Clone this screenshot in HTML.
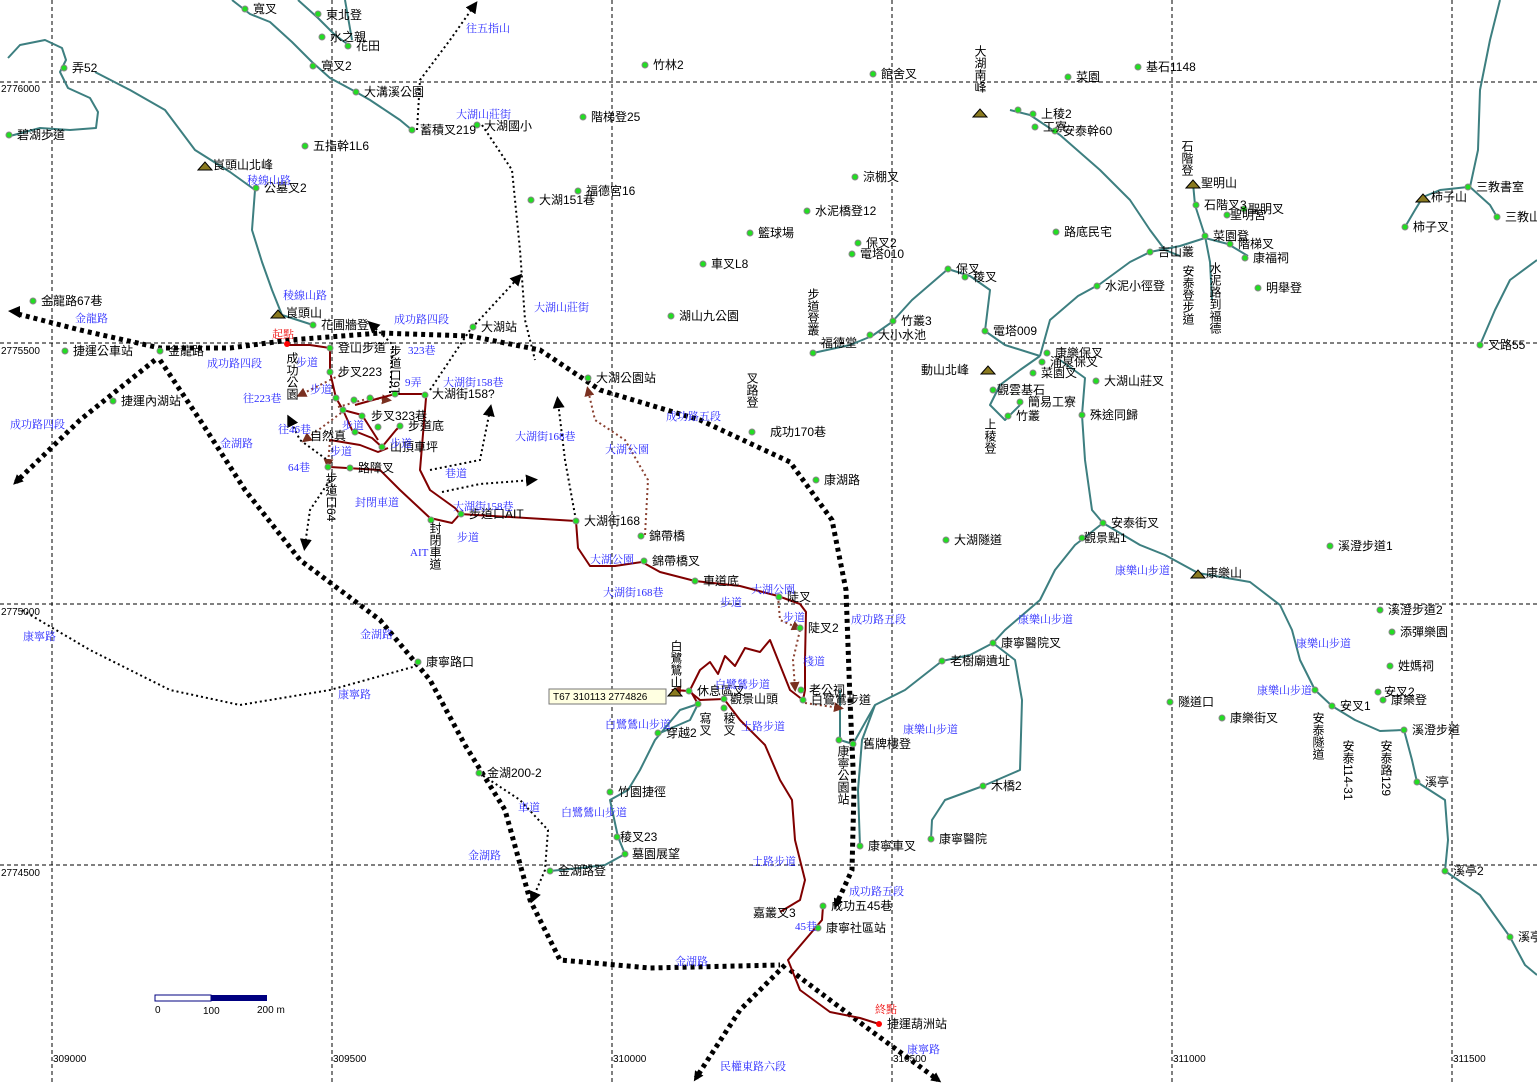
<!DOCTYPE html>
<html><head><meta charset="utf-8"><style>
html,body{margin:0;padding:0;background:#fff;}
svg{display:block;}
.t{font-family:"Liberation Sans","Noto Sans CJK TC",sans-serif;font-size:12px;fill:#000;}
.b{font-family:"Liberation Serif","Noto Serif CJK SC",serif;font-size:11px;fill:#2b2bff;}
.g{font-family:"Liberation Sans",sans-serif;font-size:10px;fill:#000;}
</style></head><body>
<svg width="1537" height="1084" viewBox="0 0 1537 1084" xmlns="http://www.w3.org/2000/svg">
<defs>
<marker id="ab" markerWidth="6" markerHeight="6" refX="3" refY="3" orient="auto" markerUnits="strokeWidth"><path d="M0,0 L6,3 L0,6 z" fill="#000"/></marker>
<marker id="at" markerWidth="10" markerHeight="10" refX="6" refY="5" orient="auto" markerUnits="userSpaceOnUse"><path d="M0,0 L10,5 L0,10 z" fill="#000"/></marker>
<marker id="as" markerWidth="10" markerHeight="10" refX="4" refY="5" orient="auto-start-reverse" markerUnits="userSpaceOnUse"><path d="M0,0 L10,5 L0,10 z" fill="#000"/></marker>
<marker id="ar" markerWidth="10" markerHeight="10" refX="6" refY="5" orient="auto" markerUnits="userSpaceOnUse"><path d="M0,0 L10,5 L0,10 z" fill="#7a3020"/></marker>
</defs>
<!-- grid -->
<g stroke="#000" stroke-width="1" stroke-dasharray="4,3">
<line x1="0" y1="82" x2="1537" y2="82"/><line x1="0" y1="343" x2="1537" y2="343"/>
<line x1="0" y1="604" x2="1537" y2="604"/><line x1="0" y1="865" x2="1537" y2="865"/>
<line x1="52" y1="0" x2="52" y2="1084"/><line x1="332" y1="0" x2="332" y2="1084"/>
<line x1="612" y1="0" x2="612" y2="1084"/><line x1="892" y1="0" x2="892" y2="1084"/>
<line x1="1172" y1="0" x2="1172" y2="1084"/><line x1="1452" y1="0" x2="1452" y2="1084"/>
</g>
<g class="g">
<text x="1" y="92">2776000</text><text x="1" y="354">2775500</text><text x="1" y="615">2775000</text><text x="1" y="876">2774500</text>
<text x="53" y="1062">309000</text><text x="333" y="1062">309500</text><text x="613" y="1062">310000</text><text x="893" y="1062">310500</text><text x="1173" y="1062">311000</text><text x="1453" y="1062">311500</text>
</g>
<!-- streams -->
<g fill="none" stroke="#3d7f80" stroke-width="2" stroke-linejoin="round">
<path d="M8,58 L20,45 L45,40 L62,48 L66,60 L60,72 L68,88 L90,98 L98,112 L96,128 L70,130 L40,128 L10,136"/>
<path d="M232,0 L250,14 L270,22 L292,42 L312,62 L330,78 L356,92"/>
<path d="M298,0 L318,18 L335,35 L350,46 M345,0 L352,40"/>
<path d="M356,92 L370,100 L400,120 L412,130"/>
<path d="M95,72 L130,90 L165,110 L195,150 L230,172 L255,190 L252,230 L262,262 L272,290 L282,315 L313,325"/>
<path d="M813,353 L850,345 L872,336 L892,322 L912,300 L948,269 L970,276 L990,290 L985,331 L1005,345 L1040,356"/>
<path d="M1040,356 L1050,320 L1078,296 L1100,284 L1130,262 L1150,252 L1180,246 L1205,238 L1228,244 L1248,256"/>
<path d="M1010,110 L1030,115 L1060,135 L1100,170 L1130,200 L1150,230 L1165,250 L1180,256"/>
<path d="M1193,183 L1195,205 L1205,236 L1210,262 L1212,300"/>
<path d="M1040,356 L1020,370 L1000,385 L990,405 L1005,420 L1020,405"/>
<path d="M1060,360 L1085,378 L1082,415 L1085,460 L1092,510 L1103,523 L1140,545 L1165,555 L1198,573 L1250,582 L1280,605 L1292,630 L1300,660 L1315,690 L1332,706 L1355,720 L1380,731 L1404,730 L1412,760 L1417,782 L1445,800 L1448,840 L1445,871 L1480,895 L1510,937 L1525,965 L1537,975"/>
<path d="M1103,523 L1075,545 L1055,570 L1040,600 L1005,630 L993,643 L970,655 L942,661 L905,690 L875,705 L862,740 L858,790 L860,846"/>
<path d="M993,643 L1015,660 L1022,700 L1020,770 L983,786 L945,800 L932,820 L931,839"/>
<path d="M840,690 L840,740 L853,744 L875,705"/>
<path d="M660,733 L690,720 L698,704 L680,710 L655,740 L640,770 L628,790 L610,800 L618,837 L625,854 L605,865 L580,868 L550,871"/>
<path d="M1537,260 L1510,280 L1495,310 L1480,345"/>
<path d="M1500,0 L1490,40 L1480,90 L1478,150 L1470,187 L1490,205 L1497,217"/>
<path d="M1405,227 L1415,210 L1423,197 L1440,190 L1468,187"/>
</g>
<!-- thick dotted route -->
<g fill="none" stroke="#000" stroke-width="5" stroke-dasharray="4,4">
<path d="M18,314 L80,330 L160,348 L230,348 L290,340 L380,333 L470,336 L540,350 L600,390 L700,420 L790,462 L832,520 L846,590 L850,700 L854,790 L852,870 L836,905" marker-end="url(#at)"/>
<path d="M155,360 L80,420 L16,482" marker-end="url(#at)"/>
<path d="M160,360 L200,420 L245,490 L300,560 L380,620 L430,680 L465,745 L505,810 L530,900 L560,960 L650,968 L780,965"/>
<path d="M785,965 L740,1010 L696,1078" marker-end="url(#at)"/>
<path d="M790,970 L870,1030 L938,1080" marker-end="url(#at)"/>
</g>
<path d="M20,306 L8,311 L20,318 z" fill="#000"/>
<!-- thin dotted -->
<g fill="none" stroke="#000" stroke-width="2" stroke-dasharray="2,3">
<path d="M417,130 L420,80 L450,40 L474,6" marker-end="url(#ab)"/>
<path d="M482,125 L512,170 L520,250 L525,320 L535,360"/>
<path d="M430,390 L470,330 L518,278" marker-end="url(#ab)"/>
<path d="M22,610 L90,650 L170,690 L240,705 L330,690 L420,665"/>
<path d="M430,470 L480,460 L490,410" marker-end="url(#ab)"/>
<path d="M442,492 L480,484 L532,480" marker-end="url(#ab)"/>
<path d="M575,515 L565,460 L558,402" marker-end="url(#ab)"/>
<path d="M330,480 L310,510 L305,545" marker-end="url(#ab)"/>
<path d="M330,462 L300,440 L290,420" marker-end="url(#ab)"/>
<path d="M390,393 L393,345 L372,325" marker-end="url(#ab)"/>
<path d="M479,773 L520,800 L548,830 L545,870 L533,898" marker-end="url(#ab)"/>
</g>
<!-- brown dotted -->
<g fill="none" stroke="#8a4030" stroke-width="2" stroke-dasharray="2,3">
<path d="M340,375 L300,395" marker-end="url(#ar)"/>
<path d="M345,410 L305,440" marker-end="url(#ar)"/>
<path d="M338,407 L370,398 L388,400" marker-end="url(#ar)"/>
<path d="M330,440 L328,465" marker-end="url(#ar)"/>
<path d="M645,535 L648,480 L625,440 L595,420 L588,390" marker-end="url(#ar)"/>
<path d="M778,596 L780,620 L798,628" marker-end="url(#ar)"/>
<path d="M800,630 L793,660 L795,688" marker-end="url(#ar)"/>
<path d="M805,703 L840,708" marker-end="url(#ar)"/>
<path d="M689,691 L675,690" marker-end="url(#ar)"/>
</g>
<!-- red trail -->
<g fill="none" stroke="#800000" stroke-width="2" stroke-linejoin="round">
<path d="M287,345 L310,345 L330,348 L330,372 L336,398 L343,410 L352,430 L372,438 L382,447 L396,430 L400,426"/>
<path d="M343,410 L362,415 L378,440"/>
<path d="M330,440 L360,445 L378,452 L388,448"/>
<path d="M355,405 L380,398 L395,394 L424,394 L426,398 L420,470 L430,490 L455,508 L460,514 L452,523 L430,518 L400,490 L380,470 L330,467"/>
<path d="M460,514 L576,521 L578,548 L590,566 L615,566 L642,562 L660,572 L695,581 L740,586 L778,596 L800,604 L806,612 L805,660 L805,690 L803,700"/>
<path d="M672,690 L689,691 L700,700 L724,699 L740,720 L765,745 L780,780 L792,800 L795,840 L805,880 L800,900 L780,912"/>
<path d="M698,704 L690,690 L700,670 L710,662 L718,674 L725,656 L735,666 L745,648 L760,652 L770,640 L778,660 L790,690 L803,700"/>
<path d="M823,906 L822,920 L805,940 L788,960 L800,990 L830,1012 L860,1018 L879,1024"/>
</g>
<!-- scale -->
<rect x="155" y="995" width="56" height="6" fill="#fff" stroke="#000080"/><rect x="211" y="995" width="56" height="6" fill="#000080"/>
<text class="g" x="155" y="1013">0</text><text class="g" x="203" y="1014">100</text><text class="g" x="257" y="1013">200 m</text>
<!-- tooltip -->
<rect x="549" y="689" width="117" height="15" fill="#ffffe1" stroke="#777"/>
<text class="g" x="553" y="700">T67  310113  2774826</text>
<!-- peaks -->
<g fill="#8a7a20" stroke="#000" stroke-width="1">
<path d="M198,170 l7,-8 l7,8z"/><path d="M271,318 l7,-8 l7,8z"/><path d="M973,117 l7,-8 l7,8z"/><path d="M1186,188 l7,-8 l7,8z"/><path d="M1416,202 l7,-8 l7,8z"/><path d="M1191,578 l7,-8 l7,8z"/><path d="M981,374 l7,-8 l7,8z"/><path d="M668,696 l7,-8 l7,8z"/>
</g>
<!-- points -->
<g fill="#22dd22" stroke="#888" stroke-width="1">
<circle cx="245" cy="9" r="3"/><circle cx="318" cy="14" r="3"/><circle cx="322" cy="37" r="3"/><circle cx="348" cy="46" r="3"/><circle cx="313" cy="66" r="3"/><circle cx="64" cy="68" r="3"/><circle cx="356" cy="92" r="3"/><circle cx="9" cy="135" r="3"/><circle cx="412" cy="130" r="3"/><circle cx="477" cy="125" r="3"/><circle cx="305" cy="146" r="3"/><circle cx="256" cy="188" r="3"/><circle cx="645" cy="65" r="3"/><circle cx="873" cy="74" r="3"/><circle cx="1068" cy="77" r="3"/><circle cx="1138" cy="67" r="3"/><circle cx="583" cy="117" r="3"/><circle cx="578" cy="191" r="3"/><circle cx="531" cy="200" r="3"/><circle cx="855" cy="177" r="3"/><circle cx="807" cy="211" r="3"/><circle cx="750" cy="233" r="3"/><circle cx="858" cy="243" r="3"/><circle cx="852" cy="254" r="3"/><circle cx="703" cy="264" r="3"/><circle cx="671" cy="316" r="3"/><circle cx="473" cy="327" r="3"/><circle cx="33" cy="301" r="3"/><circle cx="313" cy="325" r="3"/><circle cx="65" cy="351" r="3"/><circle cx="160" cy="351" r="3"/><circle cx="113" cy="401" r="3"/><circle cx="588" cy="378" r="3"/><circle cx="752" cy="432" r="3"/><circle cx="816" cy="480" r="3"/><circle cx="946" cy="540" r="3"/><circle cx="576" cy="521" r="3"/><circle cx="641" cy="536" r="3"/><circle cx="644" cy="561" r="3"/><circle cx="695" cy="581" r="3"/><circle cx="779" cy="597" r="3"/><circle cx="800" cy="628" r="3"/><circle cx="801" cy="690" r="3"/><circle cx="803" cy="700" r="3"/><circle cx="689" cy="691" r="3"/><circle cx="724" cy="699" r="3"/><circle cx="698" cy="704" r="3"/><circle cx="724" cy="708" r="3"/><circle cx="658" cy="733" r="3"/><circle cx="610" cy="792" r="3"/><circle cx="617" cy="837" r="3"/><circle cx="625" cy="854" r="3"/><circle cx="479" cy="773" r="3"/><circle cx="550" cy="871" r="3"/><circle cx="418" cy="662" r="3"/><circle cx="853" cy="744" r="3"/><circle cx="839" cy="740" r="3"/><circle cx="860" cy="846" r="3"/><circle cx="931" cy="839" r="3"/><circle cx="983" cy="786" r="3"/><circle cx="942" cy="661" r="3"/><circle cx="993" cy="643" r="3"/><circle cx="1082" cy="538" r="3"/><circle cx="1103" cy="523" r="3"/><circle cx="1330" cy="546" r="3"/><circle cx="1380" cy="610" r="3"/><circle cx="1392" cy="632" r="3"/><circle cx="1390" cy="666" r="3"/><circle cx="1378" cy="692" r="3"/><circle cx="1383" cy="700" r="3"/><circle cx="1332" cy="706" r="3"/><circle cx="1404" cy="730" r="3"/><circle cx="1315" cy="690" r="3"/><circle cx="1170" cy="702" r="3"/><circle cx="1222" cy="718" r="3"/><circle cx="1417" cy="782" r="3"/><circle cx="1445" cy="871" r="3"/><circle cx="1510" cy="937" r="3"/><circle cx="823" cy="906" r="3"/><circle cx="818" cy="928" r="3"/><circle cx="1096" cy="381" r="3"/><circle cx="1082" cy="415" r="3"/><circle cx="1020" cy="402" r="3"/><circle cx="1008" cy="416" r="3"/><circle cx="993" cy="390" r="3"/><circle cx="1033" cy="373" r="3"/><circle cx="1042" cy="362" r="3"/><circle cx="1047" cy="353" r="3"/><circle cx="985" cy="331" r="3"/><circle cx="870" cy="335" r="3"/><circle cx="893" cy="321" r="3"/><circle cx="813" cy="353" r="3"/><circle cx="948" cy="269" r="3"/><circle cx="965" cy="277" r="3"/><circle cx="1097" cy="286" r="3"/><circle cx="1056" cy="232" r="3"/><circle cx="1150" cy="252" r="3"/><circle cx="1258" cy="288" r="3"/><circle cx="1245" cy="258" r="3"/><circle cx="1230" cy="244" r="3"/><circle cx="1205" cy="236" r="3"/><circle cx="1227" cy="215" r="3"/><circle cx="1196" cy="205" r="3"/><circle cx="1244" cy="209" r="3"/><circle cx="1468" cy="187" r="3"/><circle cx="1405" cy="227" r="3"/><circle cx="1497" cy="217" r="3"/><circle cx="1480" cy="345" r="3"/><circle cx="1033" cy="114" r="3"/><circle cx="1035" cy="127" r="3"/><circle cx="1055" cy="131" r="3"/><circle cx="1018" cy="110" r="3"/>
<circle cx="330" cy="348" r="3"/><circle cx="330" cy="372" r="3"/><circle cx="336" cy="398" r="3"/><circle cx="343" cy="410" r="3"/><circle cx="362" cy="416" r="3"/><circle cx="378" cy="427" r="3"/><circle cx="400" cy="426" r="3"/><circle cx="355" cy="432" r="3"/><circle cx="382" cy="447" r="3"/><circle cx="370" cy="398" r="3"/><circle cx="395" cy="394" r="3"/><circle cx="425" cy="395" r="3"/><circle cx="328" cy="467" r="3"/><circle cx="350" cy="468" r="3"/><circle cx="431" cy="520" r="3"/><circle cx="461" cy="514" r="3"/><circle cx="354" cy="400" r="3"/>
</g>
<circle cx="287" cy="344" r="3" fill="#f00"/>
<circle cx="879" cy="1024" r="3" fill="#f00"/>
<!-- black labels -->
<g class="t">
<text x="253" y="13">寬叉</text><text x="326" y="19">東北登</text><text x="330" y="41">水之親</text><text x="356" y="50">花田</text><text x="321" y="70">寬叉2</text><text x="72" y="72">弄52</text><text x="364" y="96">大溝溪公園</text><text x="17" y="139">碧湖步道</text><text x="420" y="134">蓄積叉219</text><text x="484" y="130">大湖國小</text><text x="313" y="150">五指幹1L6</text><text x="213" y="169">峎頭山北峰</text><text x="264" y="192">公墓叉2</text>
<text x="653" y="69">竹林2</text><text x="881" y="78">館舍叉</text><text x="1076" y="81">菜園</text><text x="1146" y="71">基石1148</text><text x="591" y="121">階梯登25</text><text x="586" y="195">福德宮16</text><text x="539" y="204">大湖151巷</text><text x="863" y="181">涼棚叉</text><text x="815" y="215">水泥橋登12</text><text x="758" y="237">籃球場</text><text x="866" y="247">保叉2</text><text x="860" y="258">電塔010</text><text x="711" y="268">車叉L8</text><text x="679" y="320">湖山九公園</text><text x="481" y="331">大湖站</text>
<text x="41" y="305">金龍路67巷</text><text x="286" y="317">峎頭山</text><text x="321" y="329">花圃牆登</text><text x="73" y="355">捷運公車站</text><text x="168" y="355">金龍路</text><text x="121" y="405">捷運內湖站</text><text x="596" y="382">大湖公園站</text><text x="770" y="436">成功170巷</text><text x="824" y="484">康湖路</text><text x="954" y="544">大湖隧道</text>
<text x="338" y="352">登山步道</text><text x="338" y="376">步叉223</text><text x="371" y="420">步叉323巷</text><text x="408" y="430">步道底</text><text x="390" y="451">山頂車坪</text><text x="432" y="398">大湖街158?</text><text x="310" y="440">自然真</text><text x="358" y="472">路障叉</text><text x="469" y="518">步道口AIT</text>
<text x="584" y="525">大湖街168</text><text x="649" y="540">錦帶橋</text><text x="652" y="565">錦帶橋叉</text><text x="703" y="585">車道底</text><text x="787" y="601">陡叉</text><text x="808" y="632">陡叉2</text><text x="809" y="694">老公祠</text><text x="811" y="704">白鷺鷥步道</text><text x="697" y="695">休息區叉</text><text x="730" y="703">觀景山頭</text><text x="666" y="737">穿越2</text><text x="618" y="796">竹園捷徑</text><text x="620" y="841">稜叉23</text><text x="632" y="858">墓園展望</text><text x="487" y="777">金湖200-2</text><text x="558" y="875">金湖路登</text><text x="426" y="666">康寧路口</text>
<text x="863" y="748">舊牌樓登</text><text x="868" y="850">康寧車叉</text><text x="939" y="843">康寧醫院</text><text x="991" y="790">木橋2</text><text x="950" y="665">老樹廟遺址</text><text x="1001" y="647">康寧醫院叉</text><text x="1084" y="542">觀景點1</text><text x="1111" y="527">安泰街叉</text><text x="1206" y="577">康樂山</text><text x="1338" y="550">溪澄步道1</text><text x="1388" y="614">溪澄步道2</text><text x="1400" y="636">添彈樂園</text><text x="1398" y="670">姓媽祠</text><text x="1384" y="696">安叉2</text><text x="1391" y="704">康樂登</text><text x="1340" y="710">安叉1</text><text x="1412" y="734">溪澄步道</text><text x="1178" y="706">隧道口</text><text x="1230" y="722">康樂街叉</text><text x="1425" y="786">溪亭</text><text x="1453" y="875">溪亭2</text><text x="1518" y="941">溪亭</text>
<text x="831" y="910">成功五45巷</text><text x="826" y="932">康寧社區站</text><text x="887" y="1028">捷運葫洲站</text><text x="753" y="917">嘉叢叉3</text>
<text x="1104" y="385">大湖山莊叉</text><text x="1090" y="419">殊途同歸</text><text x="1028" y="406">簡易工寮</text><text x="1016" y="420">竹叢</text><text x="997" y="394">觀雲基石</text><text x="1041" y="377">菜園叉</text><text x="1050" y="366">涌泉保叉</text><text x="1055" y="357">康樂保叉</text><text x="993" y="335">電塔009</text><text x="878" y="339">大小水池</text><text x="901" y="325">竹叢3</text><text x="821" y="347">福德堂</text><text x="956" y="273">保叉</text><text x="973" y="281">稜叉</text><text x="1105" y="290">水泥小徑登</text><text x="1064" y="236">路底民宅</text><text x="1158" y="256">吉山叢</text><text x="1266" y="292">明舉登</text><text x="1253" y="262">康福祠</text><text x="1238" y="248">階梯叉</text><text x="1213" y="240">菜園登</text><text x="1230" y="219">聖明宮</text><text x="1204" y="209">石階叉3</text><text x="1248" y="213">聖明叉</text><text x="1201" y="187">聖明山</text><text x="1431" y="201">柿子山</text><text x="1476" y="191">三教書室</text><text x="1413" y="231">柿子叉</text><text x="1505" y="221">三教山</text><text x="1488" y="349">叉路55</text><text x="1041" y="118">上稜2</text><text x="1043" y="131">工寮</text><text x="1063" y="135">安泰幹60</text><text x="921" y="374">動山北峰</text>
</g>
<!-- vertical labels -->
<g class="t" style="writing-mode:vertical-rl">
<text x="980" y="45">大湖南峰</text><text x="1187" y="140">石階登</text><text x="1188" y="265">安泰登步道</text><text x="1215" y="262">水泥路到福德</text><text x="813" y="288">步道登叢</text><text x="752" y="372">叉路登</text><text x="990" y="418">上稜登</text><text x="292" y="352">成功公園</text><text x="395" y="345">步道口9T</text><text x="331" y="472">步道口64</text><text x="435" y="522">封閉車道</text><text x="676" y="640">白鷺鷥山</text><text x="705" y="712">寫叉</text><text x="729" y="712">稜叉</text><text x="843" y="745">康寧公園站</text><text x="1318" y="712">安泰隧道</text><text x="1348" y="740">安泰114-31</text><text x="1386" y="740">安泰路129</text>
</g>
<!-- blue labels -->
<g class="b">
<text x="75" y="322">金龍路</text><text x="272" y="338" style="fill:#e00">起點</text><text x="394" y="323">成功路四段</text><text x="408" y="354">323巷</text><text x="207" y="367">成功路四段</text><text x="10" y="428">成功路四段</text><text x="456" y="118">大湖山莊街</text><text x="534" y="311">大湖山莊街</text><text x="466" y="32">往五指山</text><text x="247" y="184">稜線山路</text><text x="283" y="299">稜線山路</text><text x="443" y="386">大湖街158巷</text><text x="515" y="440">大湖街168巷</text><text x="605" y="453">大湖公園</text><text x="666" y="420">成功路五段</text><text x="243" y="402">往223巷</text><text x="278" y="433">往46巷</text><text x="288" y="471">64巷</text><text x="220" y="447">金湖路</text><text x="445" y="477">巷道</text><text x="355" y="506">封閉車道</text><text x="453" y="510">大湖街158巷</text><text x="457" y="541">步道</text><text x="410" y="556">AIT</text><text x="590" y="563">大湖公園</text><text x="603" y="596">大湖街168巷</text><text x="720" y="606">步道</text><text x="751" y="593">大湖公園</text><text x="783" y="621">步道</text><text x="851" y="623">成功路五段</text><text x="803" y="665">棧道</text><text x="360" y="638">金湖路</text><text x="23" y="640">康寧路</text><text x="338" y="698">康寧路</text><text x="715" y="688">白鷺鷥步道</text><text x="605" y="728">白鷺鷥山步道</text><text x="741" y="730">土路步道</text><text x="903" y="733">康樂山步道</text><text x="1018" y="623">康樂山步道</text><text x="1115" y="574">康樂山步道</text><text x="1296" y="647">康樂山步道</text><text x="1257" y="694">康樂山步道</text><text x="518" y="811">車道</text><text x="561" y="816">白鷺鷥山步道</text><text x="468" y="859">金湖路</text><text x="752" y="865">土路步道</text><text x="849" y="895">成功路五段</text><text x="795" y="930">45巷</text><text x="675" y="965">金湖路</text><text x="875" y="1013" style="fill:#e00">終點</text><text x="907" y="1053">康寧路</text><text x="720" y="1070">民權東路六段</text><text x="296" y="366">步道</text><text x="310" y="393">步道</text><text x="342" y="429">步道</text><text x="330" y="455">步道</text><text x="405" y="386">9弄</text><text x="390" y="447">步道</text>
</g>
</svg>
</body></html>
